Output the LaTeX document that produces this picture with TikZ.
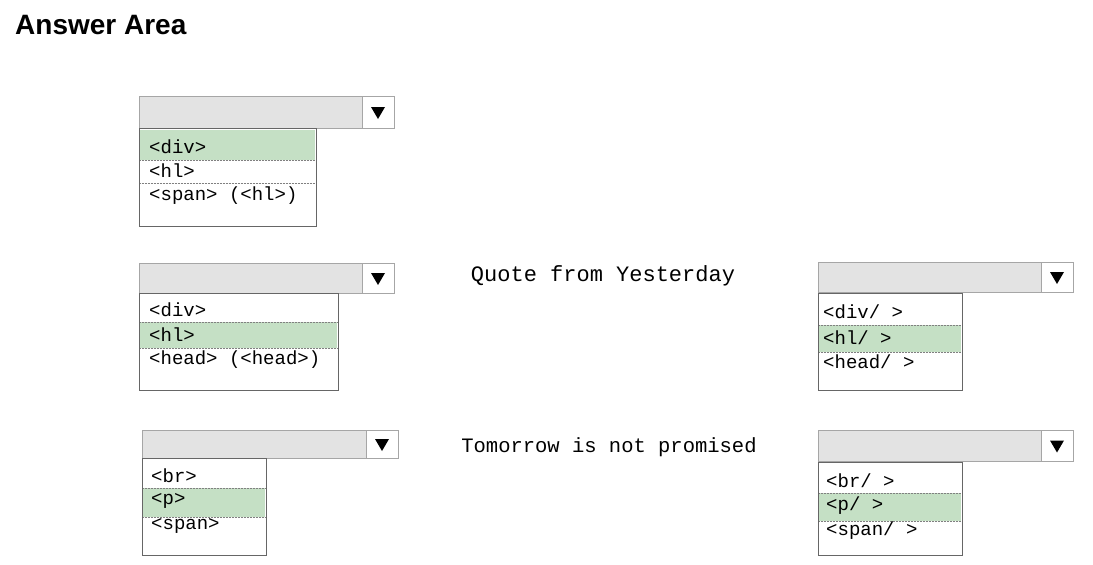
\documentclass[tikz,border=0pt]{standalone}
\usepackage{fontspec}
\setmainfont{Liberation Sans}
\newfontfamily\cour{Liberation Mono}
\usetikzlibrary{calc}
\begin{document}
\begin{tikzpicture}[x=1pt,y=-1pt,
  bar/.style={draw=gray!70,fill=gray!22,line width=0.8pt},
  arr/.style={draw=gray!70,fill=white,line width=0.8pt},
  lst/.style={draw=gray!80!black,fill=white,line width=0.8pt},
  hl/.style={fill=green!30!gray!35},
  sep/.style={draw=gray,densely dotted,line width=0.5pt},
  itm/.style={anchor=west,inner sep=0pt,font=\cour\fontsize{19}{19}\selectfont},
  txt/.style={inner sep=0pt,font=\cour\fontsize{22}{22}\selectfont}]
\useasboundingbox (0,0) rectangle (1093,565);
\node[anchor=west,inner sep=0pt,font=\bfseries\fontsize{28}{28}\selectfont] (title) at (15,25) {Answer Area};
\newcommand\ddbar[4]{%
  \draw[bar] (#1,#3) rectangle (#2,#4);
  \draw[arr] (#2-32,#3) rectangle (#2,#4);
  \fill ($(#2-16,{(#3+#4)/2})+(-7,-5)$) -- ++(14,0) -- ++(-7,12) -- cycle;}
% D1
\ddbar{139}{394}{96}{128}
\draw[lst] (139,128) rectangle (316,226);
\fill[hl] (140,130) rectangle (315,160);
\draw[sep] (140,160) -- (315,160); \draw[sep] (140,183) -- (315,183);
\node[itm] (a1) at (149,147) {<div>};
\node[itm] (a2) at (149,171) {<hl>};
\node[itm] (a3) at (149,196) {<span> (<hl>)};
% D2
\ddbar{139}{394}{263}{293}
\draw[lst] (139,293) rectangle (338,390);
\fill[hl] (140,322) rectangle (337,348);
\draw[sep] (140,322) -- (337,322); \draw[sep] (140,348) -- (337,348);
\node[itm] (b1) at (149,310) {<div>};
\node[itm] (b2) at (149,335) {<hl>};
\node[itm] (b3) at (149,360) {<head> (<head>)};
% D3
\ddbar{142}{398}{430}{458}
\draw[lst] (142,458) rectangle (266,555);
\fill[hl] (143,488) rectangle (265,517);
\draw[sep] (143,488) -- (265,488); \draw[sep] (143,517) -- (265,517);
\node[itm] (c1) at (151,476) {<br>};
\node[itm] (c2) at (151,501) {<p>};
\node[itm] (c3) at (151,526) {<span>};
% R1
\ddbar{818}{1073}{262}{292}
\draw[lst] (818,293) rectangle (962,390);
\fill[hl] (819,325) rectangle (961,352);
\draw[sep] (819,325) -- (961,325); \draw[sep] (819,352) -- (961,352);
\node[itm] (d1) at (823,312) {<div/ >};
\node[itm] (d2) at (823,338) {<hl/ >};
\node[itm] (d3) at (823,362) {<head/ >};
% R2
\ddbar{818}{1073}{430}{461}
\draw[lst] (818,462) rectangle (962,555);
\fill[hl] (819,493) rectangle (961,521);
\draw[sep] (819,493) -- (961,493); \draw[sep] (819,521) -- (961,521);
\node[itm] (e1) at (826,481) {<br/ >};
\node[itm] (e2) at (826,506) {<p/ >};
\node[itm] (e3) at (826,531) {<span/ >};
% texts
\node[txt] (q) at (603,276) {Quote from Yesterday};
\node[txt,font=\cour\fontsize{20.5}{20.5}\selectfont] (t) at (609,447) {Tomorrow is not promised};
\end{tikzpicture}
\end{document}
